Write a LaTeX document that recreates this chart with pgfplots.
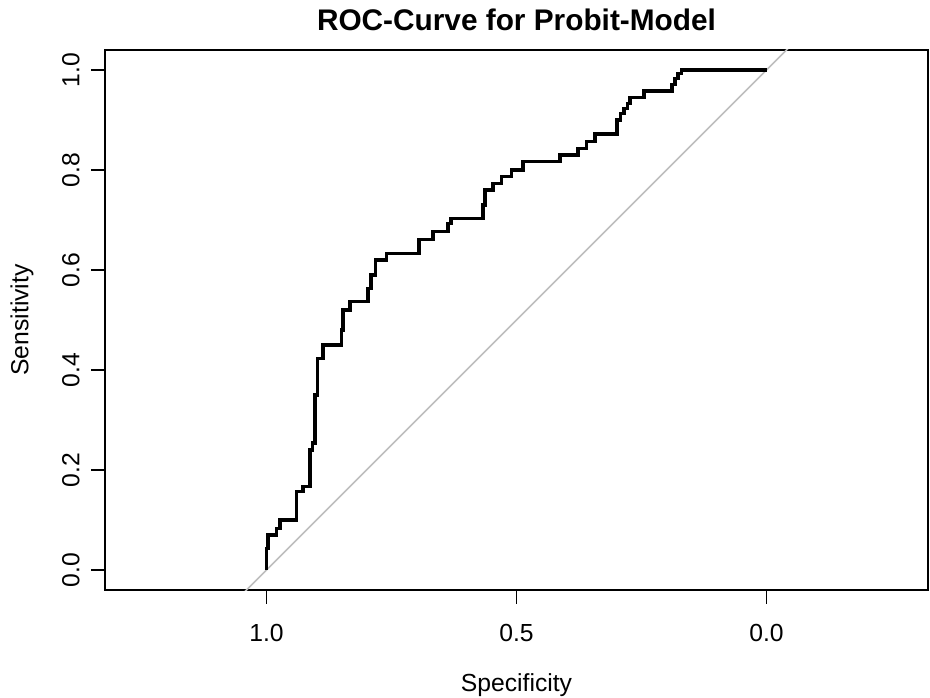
\documentclass[border=0pt]{standalone}
\usepackage{pgfplots}
\pgfplotsset{compat=1.18}
\usepackage{fontspec}
\setmainfont{Liberation Sans}
\definecolor{rgrey}{RGB}{190,190,190}
\begin{document}
\begin{tikzpicture}
\useasboundingbox (0,0) rectangle (465pt,348.5pt);
\begin{axis}[
  at={(52.5pt,53.5pt)}, anchor=south west,
  scale only axis, width=411.5pt, height=270pt,
  x dir=reverse,
  xmin=-0.323, xmax=1.323, ymin=-0.04, ymax=1.04,
  xtick={0,0.5,1}, xticklabels={0.0,0.5,1.0},
  ytick={0,0.2,0.4,0.6,0.8,1}, yticklabels={0.0,0.2,0.4,0.6,0.8,1.0},
  tick pos=left, tick align=outside,
  major tick length=6.75pt,
  tick style={line width=0.8pt, black},
  axis line style={line width=0.8pt},
  ticklabel style={font=\fontsize{12.35}{14}\selectfont},
  xticklabel style={anchor=base},
  xticklabel shift=19pt,
  yticklabel style={rotate=90, anchor=base},
  yticklabel shift=6pt,
  title={ROC-Curve for Probit-Model},
  title style={at={(axis description cs:0.5,1)}, anchor=base, yshift=3.5pt, font=\bfseries\fontsize{14.9}{17}\selectfont},
  xlabel={Specificity},
  xlabel style={at={(axis description cs:0.5,0)}, anchor=base, yshift=-50.5pt, font=\fontsize{12.35}{14}\selectfont},
  ylabel={Sensitivity},
  ylabel style={at={(axis description cs:-0.09295,0.5)}, anchor=base, rotate=0, font=\fontsize{12.35}{14}\selectfont},
]
\addplot[rgrey, line width=0.8pt] coordinates {(1.5,-0.5) (-0.5,1.5)};
\addplot[black, line width=1.6pt, line join=miter] coordinates {
(1.000,0.000) (1.000,0.043) (0.997,0.043) (0.997,0.070) (0.980,0.070) (0.980,0.083)
(0.973,0.083) (0.973,0.100) (0.940,0.100) (0.940,0.157) (0.927,0.157) (0.927,0.167)
(0.913,0.167) (0.913,0.240) (0.908,0.240) (0.908,0.254) (0.903,0.254) (0.903,0.350)
(0.898,0.350) (0.898,0.423) (0.887,0.423) (0.887,0.450) (0.850,0.450) (0.850,0.480)
(0.847,0.480) (0.847,0.520) (0.833,0.520) (0.833,0.537) (0.797,0.537) (0.797,0.563)
(0.791,0.563) (0.791,0.590) (0.782,0.590) (0.782,0.620) (0.760,0.620) (0.760,0.633)
(0.695,0.633) (0.695,0.661) (0.667,0.661) (0.667,0.677) (0.637,0.677) (0.637,0.693)
(0.631,0.693) (0.631,0.703) (0.567,0.703) (0.567,0.730) (0.563,0.730) (0.563,0.760)
(0.547,0.760) (0.547,0.773) (0.530,0.773) (0.530,0.787) (0.510,0.787) (0.510,0.800)
(0.487,0.800) (0.487,0.817) (0.413,0.817) (0.413,0.830) (0.377,0.830) (0.377,0.843)
(0.360,0.843) (0.360,0.857) (0.343,0.857) (0.343,0.872) (0.299,0.872) (0.299,0.900)
(0.292,0.900) (0.292,0.913) (0.285,0.913) (0.285,0.923) (0.278,0.923) (0.278,0.933)
(0.273,0.933) (0.273,0.945) (0.245,0.945) (0.245,0.958) (0.189,0.958) (0.189,0.971)
(0.183,0.971) (0.183,0.983) (0.177,0.983) (0.177,0.993) (0.170,0.993) (0.170,1.000)
(0.000,1.000)
};
\end{axis}
\end{tikzpicture}
\end{document}
